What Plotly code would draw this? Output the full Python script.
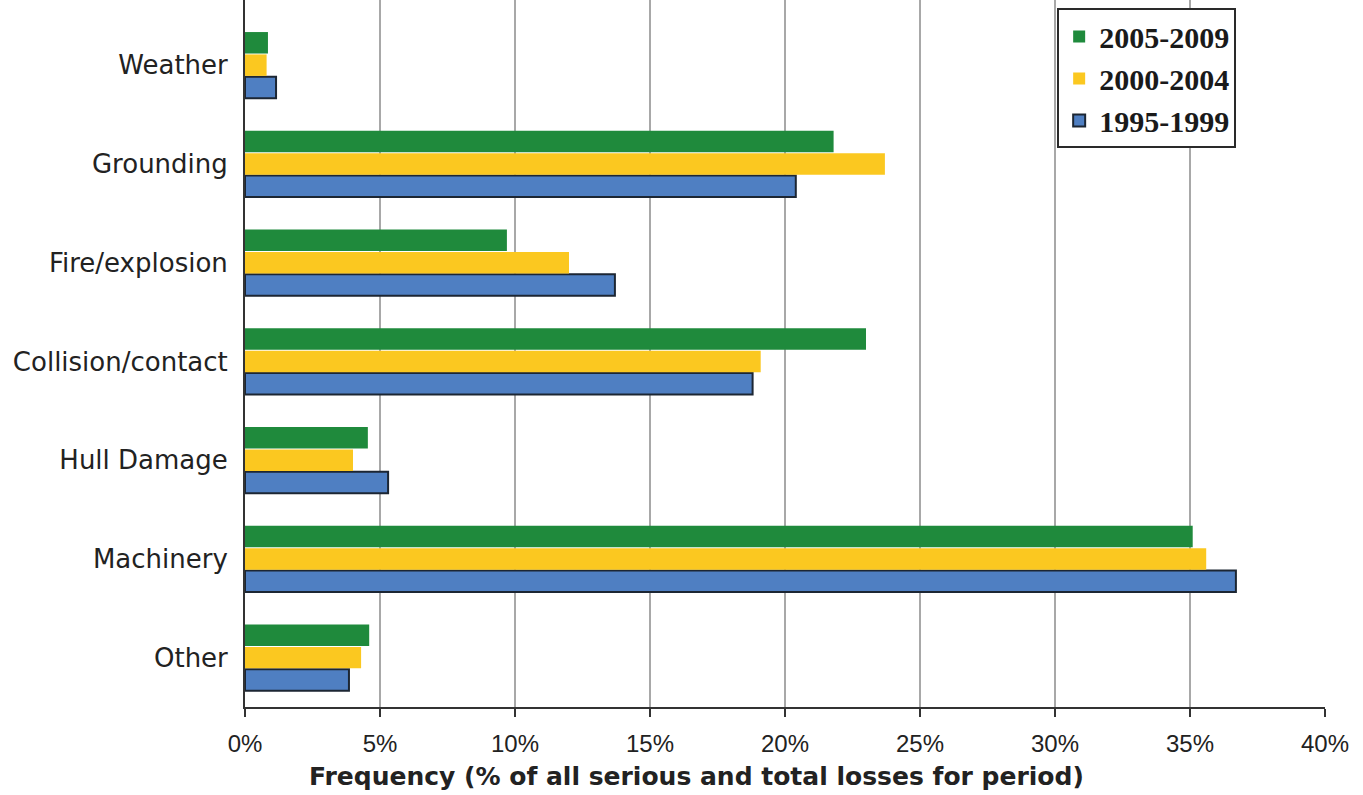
import plotly.graph_objects as go

# Loss categories, listed top to bottom as displayed
categories = ["Weather", "Grounding", "Fire/explosion", "Collision/contact",
              "Hull Damage", "Machinery", "Other"]

# Share of all serious and total losses for each period (%)
p_2005_2009 = [0.85, 21.8, 9.7, 23.0, 4.55, 35.1, 4.6]
p_2000_2004 = [0.8, 23.7, 12.0, 19.1, 4.0, 35.6, 4.3]
p_1995_1999 = [1.15, 20.4, 13.7, 18.8, 5.3, 36.7, 3.85]

x_ticks = [0, 5, 10, 15, 20, 25, 30, 35, 40]
x_tick_text = [f"{v}%" for v in x_ticks]

x_title = "Frequency (% of all serious and total losses for period)"

fig = go.Figure()
# First trace sits lowest within each group
fig.add_trace(go.Bar(
    y=categories, x=p_1995_1999, name="1995-1999", orientation="h",
    marker=dict(color="#4f7fc2", line=dict(color="#1c2633", width=2)),
))
fig.add_trace(go.Bar(
    y=categories, x=p_2000_2004, name="2000-2004", orientation="h",
    marker=dict(color="#fbc820", line=dict(width=0)),
))
fig.add_trace(go.Bar(
    y=categories, x=p_2005_2009, name="2005-2009", orientation="h",
    marker=dict(color="#1f8a3c", line=dict(width=0)),
))

fig.update_layout(
    width=1363, height=795,
    margin=dict(l=245, r=38, t=0, b=88),
    plot_bgcolor="white", paper_bgcolor="white",
    barmode="group", bargap=0.32, bargroupgap=0.04,
    showlegend=True,
    legend=dict(
        traceorder="reversed",
        x=0.752, y=0.988, xanchor="left", yanchor="top",
        font=dict(family="Liberation Serif", size=30, color="#1a1a1a", weight="bold"),
        bordercolor="#2a2a2a", borderwidth=2, bgcolor="white",
        itemwidth=30, tracegroupgap=0,
    ),
    xaxis=dict(
        range=[0, 40], tickvals=x_ticks, ticktext=x_tick_text,
        showgrid=True, gridcolor="#a8a8a8", gridwidth=2,
        showline=True, linecolor="#333333", linewidth=2,
        ticks="outside", ticklen=8, tickwidth=2, tickcolor="#333333",
        ticklabelstandoff=6,
        tickfont=dict(family="Liberation Sans", size=24, color="#222222"),
        zeroline=False,
    ),
    yaxis=dict(
        categoryorder="array", categoryarray=categories[::-1],
        range=[-0.5, 6.66],
        showline=True, linecolor="#333333", linewidth=2,
        showgrid=False, ticks="", ticklabelstandoff=10,
        tickfont=dict(family="DejaVu Sans", size=26, color="#222222"),
    ),
)

# Axis caption, set a little left of the plot centre
fig.add_annotation(
    text=x_title, xref="paper", yref="paper",
    x=0.4185, y=-0.098, xanchor="center", yanchor="middle", showarrow=False,
    font=dict(family="DejaVu Sans", size=25, color="#222222", weight="bold"),
)

fig.write_html("out.html")
